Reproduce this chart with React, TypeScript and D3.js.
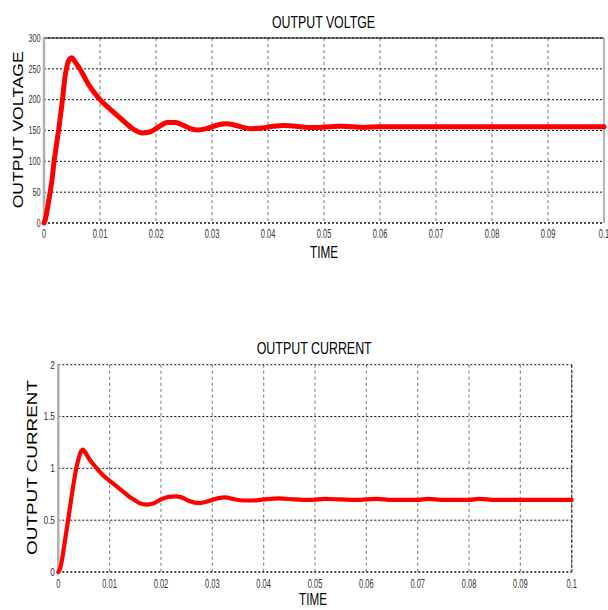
import React from "react";
import * as d3 from "d3";

const voltTime = [0, 0.0003, 0.0007, 0.0011, 0.0015, 0.0018, 0.0022, 0.0026, 0.003, 0.0033, 0.0038, 0.0042, 0.0046, 0.005, 0.0055, 0.0064, 0.008, 0.01, 0.012, 0.014, 0.016, 0.0175, 0.019, 0.0205, 0.022, 0.0235, 0.025, 0.0265, 0.0275, 0.029, 0.031, 0.0325, 0.034, 0.0355, 0.037, 0.039, 0.041, 0.043, 0.045, 0.047, 0.049, 0.051, 0.053, 0.055, 0.057, 0.06, 0.065, 0.07, 0.075, 0.08, 0.085, 0.09, 0.095, 0.1];
const voltValues = [0, 8, 28, 50, 75, 100, 125, 150, 178, 200, 240, 258, 266, 268, 262, 250, 224, 200, 183, 167, 152, 146, 148, 156, 163, 163, 158, 152, 151, 153, 159, 161, 159, 155, 153, 154, 157, 158, 157, 155, 155, 156, 157, 156, 155, 156, 156, 156, 156, 156, 156, 156, 156, 156];

const currTime = [0, 0.0004, 0.0008, 0.0012, 0.0016, 0.002, 0.0025, 0.003, 0.0035, 0.004, 0.0045, 0.0048, 0.0053, 0.006, 0.007, 0.008, 0.009, 0.01, 0.011, 0.012, 0.013, 0.014, 0.015, 0.016, 0.0172, 0.0185, 0.02, 0.0215, 0.0228, 0.024, 0.0255, 0.0275, 0.029, 0.031, 0.0325, 0.034, 0.036, 0.038, 0.04, 0.043, 0.046, 0.049, 0.052, 0.055, 0.058, 0.062, 0.065, 0.07, 0.072, 0.075, 0.08, 0.082, 0.085, 0.09, 0.1];
const currValues = [0, 0.04, 0.14, 0.27, 0.4, 0.53, 0.7, 0.86, 1.0, 1.1, 1.17, 1.18, 1.15, 1.09, 1.03, 0.97, 0.92, 0.88, 0.84, 0.8, 0.76, 0.72, 0.69, 0.66, 0.65, 0.66, 0.7, 0.725, 0.73, 0.72, 0.685, 0.665, 0.68, 0.71, 0.72, 0.705, 0.69, 0.69, 0.7, 0.71, 0.7, 0.695, 0.705, 0.7, 0.695, 0.705, 0.695, 0.695, 0.705, 0.695, 0.695, 0.705, 0.695, 0.695, 0.695];

const xTicks = [0, 0.01, 0.02, 0.03, 0.04, 0.05, 0.06, 0.07, 0.08, 0.09, 0.1];
const xTickLabels = ["0", "0.01", "0.02", "0.03", "0.04", "0.05", "0.06", "0.07", "0.08", "0.09", "0.1"];
const voltTicks = [0, 50, 100, 150, 200, 250, 300];
const currTicks = [0, 0.5, 1, 1.5, 2];
const currTickLabels = ["0", "0.5", "1", "1.5", "2"];

type PanelProps = {
  times: number[];
  values: number[];
  yTicks: number[];
  yTickLabels: string[];
  yMax: number;
  x0: number; x1: number; yT: number; yB: number;
  title: string; titleX: number; titleY: number; titleLen: number;
  ylabel: string; ylabelX: number; ylabelY: number; ylabelLen: number;
  xlabelX: number; xlabelY: number; xlabelSize: number;
  xTickY: number; yTickRight: number; yScaleX: number;
  lineW: number;
  topBorderSolid: boolean;
};

const FONT = "'Liberation Sans', Arial, sans-serif";

function Panel(p: PanelProps) {
  const x = d3.scaleLinear().domain([0, 0.1]).range([p.x0, p.x1]);
  const y = d3.scaleLinear().domain([0, p.yMax]).range([p.yB, p.yT]);
  const pts = p.times.map((t, i) => [t, p.values[i]] as [number, number]);
  const line = d3.line<[number, number]>().x(d => x(d[0])).y(d => y(d[1])).curve(d3.curveMonotoneX);
  return (
    <g>
      {xTicks.slice(1).map((t, i) => (
        <line key={"vg" + i} x1={x(t)} x2={x(t)} y1={p.yT} y2={p.yB} stroke="#8a8a8a" strokeWidth={1.2} strokeDasharray="3,3" />
      ))}
      {p.yTicks.map((v, i) => (
        <line key={"hg" + i} x1={p.x0} x2={p.x1} y1={y(v)} y2={y(v)} stroke="#111" strokeWidth={v === 0 ? 1.6 : 1} strokeDasharray="2,2" />
      ))}
      {p.topBorderSolid && <line x1={p.x0} x2={p.x1} y1={p.yT} y2={p.yT} stroke="#000" strokeWidth={1.2} />}
      {p.topBorderSolid && <line x1={p.x1} x2={p.x1} y1={p.yT} y2={p.yB} stroke="#b5b5b5" strokeWidth={2} />}
      {!p.topBorderSolid && <line x1={p.x1} x2={p.x1} y1={p.yT} y2={p.yB} stroke="#444" strokeWidth={1.4} strokeDasharray="3,2" />}
      <line x1={p.x0} x2={p.x0} y1={p.yT - 1} y2={p.yB + 1} stroke="#b0b0b0" strokeWidth={2.5} />
      <path d={line(pts) || ""} fill="none" stroke="#ff0000" strokeWidth={p.lineW} strokeLinejoin="round" strokeLinecap="round" />
      {xTicks.map((t, i) => (
        <text key={"xt" + i} transform={`translate(${x(t)},${p.xTickY}) scale(0.6,1)`} textAnchor="middle" fontSize={12.5} fontFamily={FONT} fill="#333">{xTickLabels[i]}</text>
      ))}
      {p.yTicks.map((v, i) => (
        <text key={"yt" + i} transform={`translate(${p.yTickRight},${y(v) + 3.8}) scale(${p.yScaleX},1)`} textAnchor="end" fontSize={10.7} fontFamily={FONT} fill="#333">{p.yTickLabels[i]}</text>
      ))}
      <text x={p.titleX} y={p.titleY} fontSize={16.5} fontFamily={FONT} fill="#000" textLength={p.titleLen} lengthAdjust="spacingAndGlyphs">{p.title}</text>
      <text x={p.xlabelX} y={p.xlabelY} fontSize={p.xlabelSize} fontFamily={FONT} fill="#000" textLength={28} lengthAdjust="spacingAndGlyphs">TIME</text>
      <text transform={`translate(${p.ylabelX},${p.ylabelY}) rotate(-90)`} textAnchor="start" fontSize={14} fontFamily={FONT} fill="#000" textLength={p.ylabelLen} lengthAdjust="spacingAndGlyphs">{p.ylabel}</text>
    </g>
  );
}

export default function App() {
  return (
    <svg width={608} height={610} style={{ position: "absolute", left: 0, top: 0, background: "#fff" }}>
      <rect x={0} y={0} width={608} height={610} fill="#fff" />
      <Panel
        times={voltTime} values={voltValues} yTicks={voltTicks} yTickLabels={voltTicks.map(String)} yMax={300}
        x0={44} x1={604} yT={38} yB={223}
        title="OUTPUT VOLTGE" titleX={272} titleY={28.3} titleLen={103}
        ylabel="OUTPUT VOLTAGE" ylabelX={22.7} ylabelY={208.3} ylabelLen={157}
        xlabelX={310} xlabelY={258} xlabelSize={17}
        xTickY={238} yTickRight={40.7} yScaleX={0.69}
        lineW={5} topBorderSolid={true}
      />
      <Panel
        times={currTime} values={currValues} yTicks={currTicks} yTickLabels={currTickLabels} yMax={2}
        x0={58.3} x1={571.7} yT={364.7} yB={572}
        title="OUTPUT CURRENT" titleX={256.7} titleY={354} titleLen={115}
        ylabel="OUTPUT CURRENT" ylabelX={36.7} ylabelY={555} ylabelLen={175}
        xlabelX={299} xlabelY={605} xlabelSize={16}
        xTickY={588} yTickRight={55} yScaleX={0.78}
        lineW={4.2} topBorderSolid={false}
      />
    </svg>
  );
}
